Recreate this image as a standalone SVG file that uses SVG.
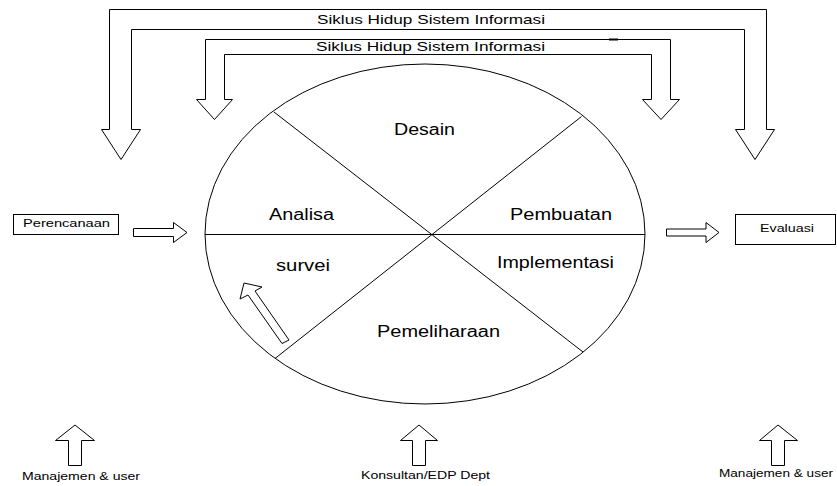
<svg xmlns="http://www.w3.org/2000/svg" width="837" height="486" viewBox="0 0 837 486">
<style>
.ln{fill:none;stroke:#000;stroke-width:1}
.blk{fill:#fff;stroke:#000;stroke-width:1;stroke-linejoin:miter}
.t{font-family:"Liberation Sans",Arial,sans-serif;fill:#000}
.big{font-size:16px}
.sm{font-size:11.5px}
.xs{font-size:11px}
</style>
<rect width="837" height="486" fill="#fff"/>
<g id="siklus-luar">
<polygon class="blk" points="109.5,129.5 109.5,9.5 766.5,9.5 766.5,129.5 774.5,129.5 755,159.5 735.5,129.5 744.5,129.5 744.5,29.5 131.5,29.5 131.5,129.5 140.5,129.5 121,159.5 101.5,129.5"/>
<text class="t" x="317" y="24" font-size="13.5" textLength="228" lengthAdjust="spacingAndGlyphs">Siklus Hidup Sistem Informasi</text>
</g>
<g id="siklus-dalam">
<polygon class="blk" points="205.5,99.5 205.5,39.5 670.5,39.5 670.5,99.5 679.5,99.5 661,119.5 642.5,99.5 651.5,99.5 651.5,54.5 224.5,54.5 224.5,99.5 232.5,99.5 214.5,119.5 196.5,99.5"/>
<line x1="609" y1="39.5" x2="618" y2="39.5" stroke="#000" stroke-width="2"/>
<text class="t" x="316" y="51" font-size="13.5" textLength="229" lengthAdjust="spacingAndGlyphs">Siklus Hidup Sistem Informasi</text>
</g>
<g id="siklus">
<ellipse class="ln" cx="425" cy="234" rx="220" ry="170"/>
<line class="ln" x1="274" y1="112" x2="583" y2="352"/>
<line class="ln" x1="581.5" y1="116.5" x2="275" y2="358.5"/>
<line class="ln" x1="205" y1="234.5" x2="645" y2="234.5" stroke="#333" stroke-width="1.3"/>
<text class="t big" x="394" y="135" textLength="61" lengthAdjust="spacingAndGlyphs">Desain</text>
<text class="t big" x="269" y="220" textLength="65" lengthAdjust="spacingAndGlyphs">Analisa</text>
<text class="t big" x="510" y="220" textLength="102" lengthAdjust="spacingAndGlyphs">Pembuatan</text>
<text class="t big" x="276" y="271" textLength="54" lengthAdjust="spacingAndGlyphs">survei</text>
<text class="t big" x="497" y="268" textLength="117" lengthAdjust="spacingAndGlyphs">Implementasi</text>
<text class="t big" x="377" y="337" textLength="123" lengthAdjust="spacingAndGlyphs">Pemeliharaan</text>
<polygon class="blk" points="244,283 262,287 255,291 289,340 282,343.5 248,295 240,299"/>
</g>
<g id="perencanaan">
<rect class="blk" x="13.5" y="214.5" width="105" height="20"/>
<text class="t sm" x="23" y="226.5" textLength="87" lengthAdjust="spacingAndGlyphs">Perencanaan</text>
</g>
<g id="evaluasi">
<rect class="blk" x="735.5" y="214.5" width="100" height="30"/>
<text class="t sm" x="760" y="232" textLength="54" lengthAdjust="spacingAndGlyphs">Evaluasi</text>
</g>
<g id="connectors">
<polygon class="blk" points="133.5,228.5 173.5,228.5 173.5,222.5 187,232.5 173.5,242.5 173.5,236.5 133.5,236.5"/>
<polygon class="blk" points="666.5,229 706,229 706,222.5 719,232.5 706,242.5 706,236 666.5,236"/>
</g>
<g id="manajemen-kiri">
<polygon class="blk" points="68.5,465.5 68.5,440.5 55.5,440.5 75,425 94.5,440.5 81.5,440.5 81.5,465.5"/>
<text class="t xs" x="22" y="480" textLength="118" lengthAdjust="spacingAndGlyphs">Manajemen &amp; user</text>
</g>
<g id="konsultan">
<polygon class="blk" points="412.5,465.5 412.5,440.5 400.5,440.5 419,425 437.5,440.5 425.5,440.5 425.5,465.5"/>
<text class="t xs" x="361" y="479" textLength="129" lengthAdjust="spacingAndGlyphs">Konsultan/EDP Dept</text>
</g>
<g id="manajemen-kanan">
<polygon class="blk" points="771.5,465.5 771.5,440.5 759.5,440.5 778,425 797.5,440.5 784.5,440.5 784.5,465.5"/>
<text class="t xs" x="719" y="477" textLength="114" lengthAdjust="spacingAndGlyphs">Manajemen &amp; user</text>
</g>
</svg>
